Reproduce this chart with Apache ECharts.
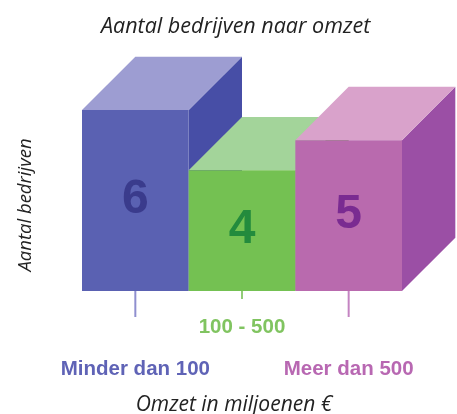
<!DOCTYPE html>
<html>
<head>
<meta charset="utf-8">
<script src="https://cdn.jsdelivr.net/npm/echarts@6/dist/echarts.min.js"></script>
<style>
  html, body { margin: 0; padding: 0; background: #ffffff; }
  #chart { width: 457px; height: 414px; }
</style>
</head>
<body>
<div id="chart"></div>
<script>
// ---- data ----
const titleText = 'Aantal bedrijven naar omzet';
const yAxisName = 'Aantal bedrijven';
const xAxisName = 'Omzet in miljoenen €';
const categories = ['Minder dan 100', '100 - 500', 'Meer dan 500'];
const values = [6, 4, 5];

// ---- styles ----
const frontColors = ['#5a61b2', '#74c152', '#b96aae'];
const topColors   = ['#9d9dd2', '#a3d49a', '#d9a2cb'];
const sideColors  = ['#474ea6', '#5aa83c', '#9b4fa5'];
const numberColors = ['#3a3b8c', '#238b3d', '#7a2b91'];
const labelColors = ['#5f63b6', '#80c460', '#b868b2'];
const tickColors  = ['#8f8fcf', '#92cc78', '#c484c2'];
const tickLens    = [26, 8, 26];
const labelPads   = [84, 0, 84];

const chart = echarts.init(document.getElementById('chart'));

const rich = {};
categories.forEach((c, i) => {
  rich['c' + i] = {
    color: labelColors[i],
    fontFamily: '"Liberation Sans", Arial, sans-serif',
    fontSize: 20.5,
    fontWeight: 'bold',
    lineHeight: 20,
    padding: [labelPads[i], 0, 0, 0]
  };
});

function renderItem(params, api) {
  const i = params.dataIndex;
  const base = api.coord([api.value(0), 0]);
  const top = api.coord([api.value(0), api.value(1)]);
  const w = api.size([1, 0])[0];
  const d = w * 0.5;
  const x0 = base[0] - w / 2, x1 = base[0] + w / 2;
  const yT = top[1], yB = base[1];
  return {
    type: 'group',
    children: [
      { type: 'polygon', shape: { points: [[x1, yT], [x1 + d, yT - d], [x1 + d, yB - d], [x1, yB]] },
        style: { fill: sideColors[i] } },
      { type: 'polygon', shape: { points: [[x0, yT], [x1, yT], [x1 + d, yT - d], [x0 + d, yT - d]] },
        style: { fill: topColors[i] } },
      { type: 'rect', shape: { x: x0, y: yT, width: w, height: yB - yT },
        style: { fill: frontColors[i] } },
      { type: 'line', shape: { x1: base[0], y1: yB, x2: base[0], y2: yB + tickLens[i] },
        style: { stroke: tickColors[i], lineWidth: 2 } },
      { type: 'text', x: base[0], y: (yT + yB) / 2 - 1,
        style: { text: String(api.value(1)), fill: numberColors[i], fontSize: 48, fontWeight: 'bold',
                 fontFamily: '"Liberation Sans", Arial, sans-serif', align: 'center', verticalAlign: 'middle' } }
    ]
  };
}

chart.setOption({
  animation: false,
  backgroundColor: '#ffffff',
  title: {
    text: titleText,
    left: 96,
    top: 11,
    textStyle: { fontFamily: '"Open Sans", sans-serif', fontStyle: 'italic', fontWeight: 'normal', fontSize: 21.5, color: '#222222' }
  },
  grid: { left: 82, right: 55, top: 110, bottom: 123, containLabel: false, outerBoundsMode: 'none' },
  xAxis: {
    type: 'category',
    data: categories,
    axisLine: { show: false },
    axisTick: { show: false },
    axisLabel: {
      margin: 26,
      interval: 0,
      formatter: (v, idx) => '{c' + idx + '|' + v + '}',
      rich: rich
    },
    name: xAxisName,
    nameLocation: 'middle',
    nameGap: 104,
    nameTextStyle: { fontFamily: '"Open Sans", sans-serif', fontStyle: 'italic', fontSize: 21, color: '#222222', padding: [0, 16, 0, 0] }
  },
  yAxis: {
    type: 'value',
    min: 0,
    max: 6,
    axisLine: { show: false },
    axisTick: { show: false },
    axisLabel: { show: false },
    splitLine: { show: false },
    name: yAxisName,
    nameLocation: 'middle',
    nameGap: 47,
    nameTextStyle: { fontFamily: '"Open Sans", sans-serif', fontStyle: 'italic', fontSize: 18.5, color: '#222222', padding: [0, 9, 0, 0] }
  },
  series: [{
    type: 'custom',
    clip: false,
    renderItem: renderItem,
    encode: { x: 0, y: 1 },
    data: categories.map((c, i) => [i, values[i]])
  }]
});
</script>
</body>
</html>
